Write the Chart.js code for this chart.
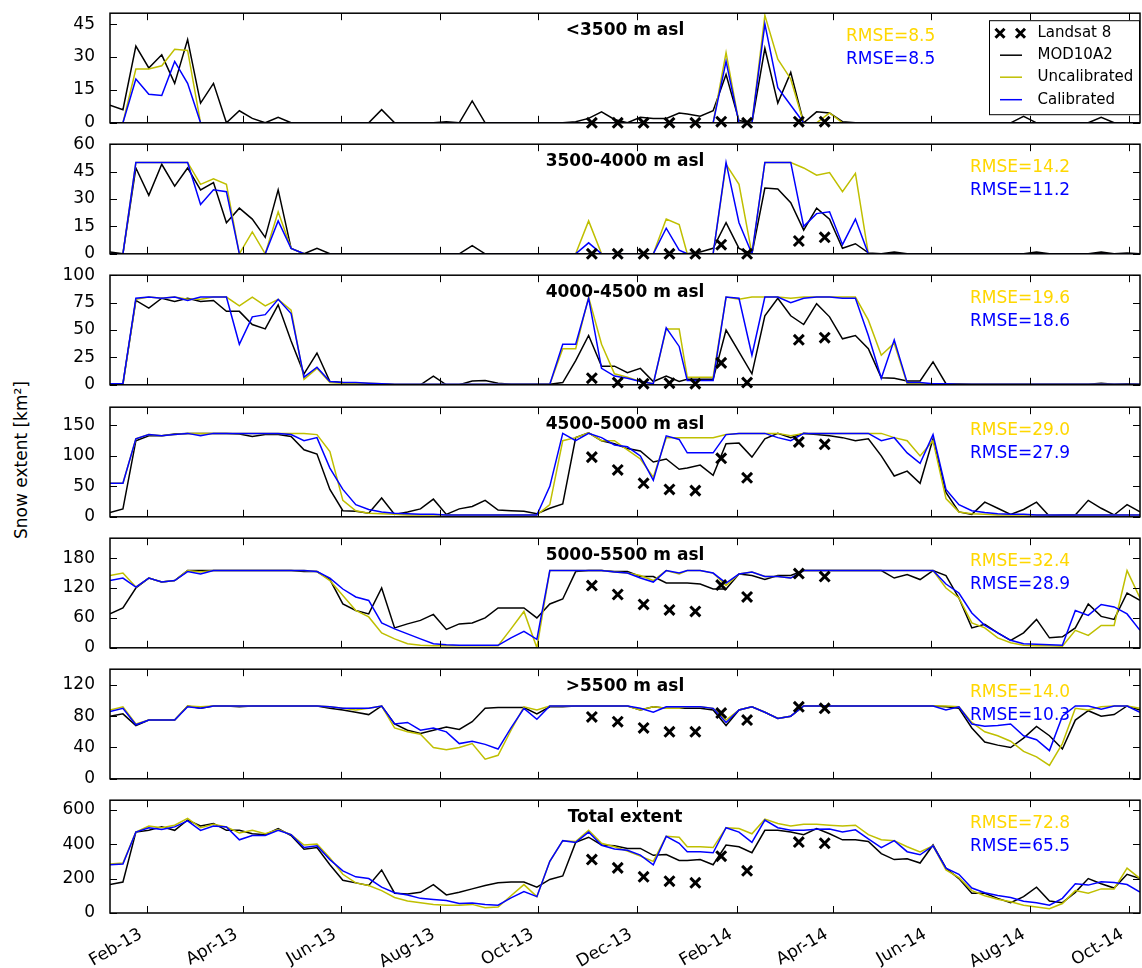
<!DOCTYPE html>
<html>
<head>
<meta charset="utf-8">
<title>Snow extent per elevation band</title>
<script src="https://cdn.jsdelivr.net/npm/chart.js@4.4.1/dist/chart.umd.min.js"></script>
<style>
  html, body { margin: 0; padding: 0; background: #fff; overflow: hidden; }
  #wrap { position: relative; width: 1142px; height: 968px; overflow: hidden; }
  #ylabel {
    position: absolute; left: 21px; top: 460px;
    transform: translate(-50%, -50%) rotate(-90deg);
    font: 17px "DejaVu Sans", sans-serif; white-space: nowrap; color: #000;
  }
</style>
</head>
<body>
<div id="wrap">
  <div id="ylabel">Snow extent [km²]</div>
</div>
<script>
// day number counted from 2013-01-01 (8-day MOD10A2 composites)
const compositeDay = [
  8, 16, 24, 32, 40, 48, 56, 64, 72, 80, 88, 96, 104, 112, 120, 128, 136, 144, 152, 160,
  168, 176, 184, 192, 200, 208, 216, 224, 232, 240, 248, 256, 264, 272, 280, 288, 296, 304, 312, 320,
  328, 336, 344, 352, 360,
  365, 373, 381, 389, 397, 405, 413, 421, 429, 437, 445, 453, 461, 469, 477, 485, 493, 501, 509, 517,
  525, 533, 541, 549, 557, 565, 573, 581, 589, 597, 605, 613, 621, 629, 637, 645
];
const landsatDay = [306, 322, 338, 354, 370, 386, 402, 434, 450];

const tickDay = [31, 90, 151, 212, 273, 334, 396, 455, 516, 577, 638];
const tickLabels = ['Feb-13', 'Apr-13', 'Jun-13', 'Aug-13', 'Oct-13', 'Dec-13',
                    'Feb-14', 'Apr-14', 'Jun-14', 'Aug-14', 'Oct-14'];

const bandTitles = ['<3500 m asl', '3500-4000 m asl', '4000-4500 m asl', '4500-5000 m asl',
                    '5000-5500 m asl', '>5500 m asl', 'Total extent'];
const rmseUncal = ['8.5', '14.2', '19.6', '29.0', '32.4', '14.0', '72.8'];
const rmseCal = ['8.5', '11.2', '18.6', '27.9', '28.9', '10.3', '65.5'];
const axisMax = [50, 60, 100, 180, 220, 140, 655];
const axisStep = [15, 15, 25, 50, 60, 40, 200];
const legendLabels = ['Landsat 8', 'MOD10A2', 'Uncalibrated', 'Calibrated'];

// <3500 m asl
const mod1 = [8, 6, 35, 25, 31, 18, 38, 9, 18, 0, 5.5, 2, 0, 2.5, 0, 0, 0, 0, 0, 0,
  0, 6, 0, 0, 0, 0, 0.5, 0, 10, 0, 0, 0, 0, 0, 0, 0, 0.5, 2, 5, 1.5, 0, 2.5, 2, 2, 4.5,
  4, 3, 5.5, 22, 1, 0, 34, 9, 23, 0, 5, 4.5, 0.5, 0, 0, 0, 0, 0, 0, 0,
  0, 0, 0, 0, 0, 0, 3, 0, 0, 0, 0, 0, 2.5, 0, 0, 0];
const unc1 = [0, 0, 24.5, 24.5, 26, 33.5, 33, 0, 0, 0, 0, 0, 0, 0, 0, 0, 0, 0, 0, 0,
  0, 0, 0, 0, 0, 0, 0, 0, 0, 0, 0, 0, 0, 0, 0, 0, 0, 0, 0, 0, 0, 0, 0, 0, 0,
  0, 0, 0, 32, 0, 0, 49, 29, 20, 0, 0, 4.5, 0, 0, 0, 0, 0, 0, 0, 0,
  0, 0, 0, 0, 0, 0, 0, 0, 0, 0, 0, 0, 0, 0, 0, 0];
const cal1 = [0, 0, 20, 13, 12.5, 28, 18, 0, 0, 0, 0, 0, 0, 0, 0, 0, 0, 0, 0, 0,
  0, 0, 0, 0, 0, 0, 0, 0, 0, 0, 0, 0, 0, 0, 0, 0, 0, 0, 0, 0, 0, 0, 0, 0, 0,
  0, 0, 0, 28, 0, 0, 45, 16, 8, 0, 0, 0, 0, 0, 0, 0, 0, 0, 0, 0,
  0, 0, 0, 0, 0, 0, 0, 0, 0, 0, 0, 0, 0, 0, 0, 0];
const l8_1 = [0, 0, 0, 0, 0, 0.5, 0, 0.5, 0.5];

// 3500-4000 m asl
const mod2 = [1, 0, 47, 32, 49, 37, 47, 35, 39, 17, 25, 19, 9, 35, 3, 0, 3, 0, 0, 0,
  0, 0, 0, 0, 0, 0, 0, 0, 4.5, 0, 0, 0, 0, 0, 0, 0, 0, 0, 0, 0, 0, 0, 0, 0, 0,
  0, 1, 3, 17, 3, 0, 36, 35.5, 28, 13, 25, 19, 3, 5.5, 0.5, 0, 1, 0, 0, 0,
  0, 0, 0, 0, 0, 0, 0, 1, 0, 0, 0, 0, 1, 0, 0.5, 0];
const unc2 = [0, 0, 50, 50, 50, 50, 50, 38, 41, 38, 0, 12, 0, 23, 3, 0, 0, 0, 0, 0,
  0, 0, 0, 0, 0, 0, 0, 0, 0, 0, 0, 0, 0, 0, 0, 0, 0, 18, 0, 0, 0, 0, 0, 19, 16,
  0, 0, 0, 49, 38, 0, 50, 50, 50, 47, 43, 44.5, 34, 44, 0, 0, 0, 0, 0, 0,
  0, 0, 0, 0, 0, 0, 0, 0, 0, 0, 0, 0, 0, 0, 0, 0];
const cal2 = [0, 0, 50, 50, 50, 50, 50, 27, 35, 34, 0, 0, 0, 18, 3, 0, 0, 0, 0, 0,
  0, 0, 0, 0, 0, 0, 0, 0, 0, 0, 0, 0, 0, 0, 0, 0, 0, 6, 0, 0, 0, 0, 0, 14, 2,
  0, 0, 0, 50, 17, 0, 50, 50, 50, 15, 22, 23, 5, 19, 0, 0, 0, 0, 0, 0,
  0, 0, 0, 0, 0, 0, 0, 0, 0, 0, 0, 0, 0, 0, 0, 0];
const l8_2 = [0, 0, 0, 0, 0, 5, 0, 7, 9];

// 4000-4500 m asl
const mod3 = [1, 1, 77, 70, 79, 76, 79, 76, 77, 67, 67, 55, 51, 73, 40, 10, 29, 3, 2, 1.5,
  1, 1, 0, 0, 0, 8, 0, 0, 3.5, 4, 1.5, 0.5, 0.5, 0.5, 0.5, 2, 22, 45, 17, 17, 11, 15, 3, 8, 3,
  5, 5, 5, 50, 30, 10, 63, 79, 63, 55, 74, 62, 42, 45, 33, 6.5, 6, 3.5, 3.5, 21,
  1, 1, 0.5, 0.5, 0.5, 0.5, 0.5, 0.5, 0.5, 0.5, 0.5, 0.5, 1.5, 0.5, 1, 0.5];
const unc3 = [0, 0, 78, 80, 79, 80, 78, 78, 80, 80, 72, 80, 72, 78, 68, 5, 15, 2, 1.5, 1.5,
  1.5, 1, 0.5, 0.5, 0.5, 0.5, 0.5, 0.5, 0.5, 0.5, 0.5, 0.5, 0.5, 0.5, 0.5, 33, 33, 80, 37, 10, 7, 3, 1, 51, 51,
  7, 7, 7, 80, 78, 80, 80, 80, 79, 80, 80, 80, 80, 80, 59, 27, 38, 1, 1, 1,
  0.5, 0.5, 0.5, 0.5, 0.5, 0.5, 0.5, 0.5, 0.5, 0.5, 0.5, 0.5, 0.5, 0.5, 0.5, 0.5];
const cal3 = [1, 1, 79, 80, 79, 80, 77, 80, 80, 80, 37, 62, 64, 78, 65, 7, 16, 3, 2, 2,
  1.5, 1, 0.5, 0.5, 0.5, 0.5, 0.5, 0.5, 0.5, 0.5, 0.5, 0.5, 0.5, 0.5, 0.5, 37, 37, 79, 15, 8, 6, 3, 1, 52, 35,
  4, 4, 4, 80, 79, 27, 80, 80, 75, 79, 80, 80, 79, 79, 45, 6, 41, 2, 2, 1,
  1, 0.5, 0.5, 0.5, 0.5, 0.5, 0.5, 0.5, 0.5, 0.5, 0.5, 0.5, 0.5, 0.5, 0.5, 0.5];
const l8_3 = [6, 2, 1, 1.5, 1, 20, 2, 41, 43];

// 4500-5000 m asl
const mod4 = [7, 13, 125, 133, 133, 136, 137, 137, 137, 137, 136, 132, 135, 135, 132, 110, 103, 45, 10, 9,
  6, 31, 4, 8, 13, 29, 4, 13, 17, 27, 11, 10, 9, 5, 14, 21, 130, 138, 125, 120, 112, 108, 90, 95, 78,
  80, 85, 68, 120, 121, 98, 128, 137, 130, 137, 135, 133, 130, 125, 128, 100, 67, 75, 55, 128,
  40, 8, 4, 24, 14, 4, 12, 24, 1, 3, 3, 27, 14, 3, 20, 8];
const unc4 = [55, 55, 128, 135, 133, 135, 137, 137, 137, 137, 137, 137, 137, 137, 137, 137, 135, 107, 27, 10,
  6, 5, 4, 3, 3, 3, 3, 3, 3, 3, 3, 3, 3, 3, 20, 125, 130, 138, 125, 125, 110, 95, 65, 130, 130,
  130, 130, 130, 135, 137, 137, 137, 137, 133, 137, 137, 137, 137, 137, 137, 137, 130, 125, 100, 125,
  30, 8, 5, 4, 3, 3, 3, 3, 3, 3, 3, 3, 3, 3, 3, 3];
const cal4 = [55, 55, 128, 135, 133, 135, 137, 133, 137, 137, 137, 137, 137, 137, 135, 125, 130, 80, 45, 20,
  12, 8, 6, 5, 4, 4, 3, 3, 3, 3, 3, 3, 3, 3, 50, 137, 125, 137, 130, 118, 115, 100, 60, 133, 127,
  105, 105, 105, 135, 137, 137, 137, 130, 125, 137, 137, 137, 137, 137, 137, 125, 130, 105, 88, 135,
  45, 20, 10, 7, 5, 4, 4, 3, 3, 3, 3, 3, 3, 3, 3, 3];
const l8_4 = [98, 77, 55, 45, 43, 96, 64, 123, 119];

// 5000-5500 m asl
const mod5 = [68, 80, 120, 140, 132, 135, 155, 155, 155, 155, 155, 155, 155, 155, 155, 153, 153, 137, 88, 75,
  68, 120, 40, 48, 55, 67, 37, 48, 50, 60, 80, 80, 80, 60, 88, 98, 153, 155, 155, 153, 153, 143, 143, 130, 130,
  130, 128, 118, 118, 148, 145, 137, 145, 145, 155, 155, 155, 155, 155, 155, 155, 140, 147, 137, 155,
  145, 100, 40, 47, 30, 15, 30, 57, 20, 22, 40, 88, 63, 57, 110, 95];
const unc5 = [145, 150, 122, 140, 132, 135, 155, 152, 155, 155, 155, 155, 155, 155, 155, 155, 153, 135, 105, 75,
  62, 30, 18, 8, 5, 4, 4, 4, 4, 4, 4, 38, 73, 0, 155, 155, 155, 155, 155, 152, 150, 145, 135, 155, 148,
  155, 155, 150, 125, 148, 152, 143, 143, 140, 155, 155, 155, 155, 155, 155, 155, 155, 155, 155, 155,
  120, 100, 50, 40, 20, 10, 5, 4, 4, 3, 35, 25, 45, 45, 155, 100];
const cal5 = [135, 140, 122, 140, 132, 135, 153, 148, 155, 155, 155, 155, 155, 155, 155, 155, 153, 140, 118, 102,
  95, 50, 38, 28, 18, 8, 6, 5, 5, 5, 5, 20, 33, 17, 155, 155, 155, 155, 155, 152, 150, 140, 132, 155, 150,
  155, 155, 150, 130, 148, 152, 143, 143, 140, 155, 155, 155, 155, 155, 155, 155, 155, 155, 155, 155,
  128, 110, 70, 45, 30, 15, 8, 7, 6, 5, 75, 65, 87, 82, 68, 35];
const l8_5 = [125, 107, 87, 76, 73, 126, 102, 149, 143];

// >5500 m asl
const mod6 = [80, 83, 68, 75, 75, 75, 93, 90, 93, 93, 92, 93, 93, 93, 93, 93, 93, 90, 88, 85,
  82, 93, 70, 62, 58, 62, 66, 63, 73, 90, 91, 91, 91, 83, 92, 92, 93, 93, 93, 93, 93, 88, 92, 90, 90,
  90, 90, 88, 68, 88, 92, 85, 77, 80, 93, 93, 93, 93, 93, 93, 93, 93, 93, 93, 93,
  92, 90, 65, 47, 43, 40, 52, 67, 55, 38, 75, 87, 80, 82, 93, 88];
const unc6 = [88, 92, 70, 75, 75, 75, 93, 92, 93, 93, 93, 93, 93, 93, 93, 93, 93, 92, 90, 88,
  90, 93, 65, 60, 57, 40, 37, 40, 45, 25, 30, 62, 92, 88, 93, 93, 93, 93, 93, 93, 93, 88, 92, 90, 90,
  92, 92, 90, 75, 88, 92, 85, 77, 80, 93, 93, 93, 93, 93, 93, 93, 93, 93, 93, 93,
  93, 92, 72, 60, 55, 48, 35, 28, 17, 45, 90, 88, 92, 93, 93, 90];
const cal6 = [86, 90, 69, 75, 75, 75, 92, 90, 93, 93, 93, 93, 93, 93, 93, 93, 93, 92, 90, 90,
  90, 93, 70, 72, 62, 65, 60, 45, 48, 44, 38, 65, 90, 76, 93, 93, 93, 93, 93, 93, 93, 90, 85, 92, 92,
  92, 92, 90, 72, 88, 92, 85, 77, 80, 93, 93, 93, 93, 93, 93, 93, 93, 93, 93, 93,
  88, 92, 70, 67, 68, 70, 55, 50, 36, 80, 93, 93, 89, 93, 93, 85];
const l8_6 = [79, 73, 65, 60, 60, 84, 75, 92, 90];

// Total extent
const mod7 = [165, 180, 470, 480, 500, 480, 540, 505, 520, 480, 480, 460, 455, 490, 450, 370, 380, 280, 190, 175,
  160, 250, 115, 110, 120, 165, 105, 120, 140, 160, 175, 180, 180, 150, 195, 215, 410, 440, 395, 390, 375, 375, 335, 340, 305,
  305, 310, 280, 395, 385, 350, 480, 480, 470, 455, 490, 460, 425, 425, 415, 345, 310, 315, 290, 395,
  260, 200, 115, 115, 85, 60, 95, 150, 70, 60, 120, 200, 170, 145, 225, 200];
const unc7 = [285, 290, 470, 505, 495, 510, 550, 495, 515, 500, 465, 480, 460, 485, 455, 395, 400, 320, 225, 175,
  160, 130, 90, 70, 60, 50, 45, 45, 50, 30, 35, 100, 165, 95, 300, 420, 415, 480, 405, 385, 360, 330, 300, 445, 440,
  385, 385, 380, 495, 490, 460, 545, 520, 505, 515, 515, 510, 505, 510, 455, 425, 420, 385, 355, 390,
  250, 205, 130, 100, 80, 65, 45, 35, 25, 55, 130, 115, 140, 140, 260, 200];
const cal7 = [280, 285, 470, 495, 485, 500, 535, 480, 505, 500, 425, 450, 450, 480, 455, 380, 390, 310, 245, 210,
  200, 150, 118, 105, 85, 78, 72, 55, 58, 50, 45, 88, 125, 95, 300, 420, 410, 470, 393, 372, 364, 336, 280, 445, 405,
  356, 356, 350, 495, 470, 410, 540, 495, 480, 480, 487, 488, 470, 483, 430, 380, 420, 356, 338, 390,
  260, 225, 145, 118, 102, 90, 68, 60, 45, 85, 170, 162, 182, 177, 165, 122];
const l8_7 = [310, 262, 210, 185, 175, 330, 245, 412, 405];

const modSeries = [mod1, mod2, mod3, mod4, mod5, mod6, mod7];
const uncSeries = [unc1, unc2, unc3, unc4, unc5, unc6, unc7];
const calSeries = [cal1, cal2, cal3, cal4, cal5, cal6, cal7];
const landsatSeries = [l8_1, l8_2, l8_3, l8_4, l8_5, l8_6, l8_7];

const COL_MOD = '#000000', COL_UNC = '#bfbf00', COL_CAL = '#0000ff', COL_RMSE_UNC = '#ffd700';
const PANEL_TOP = [10, 141, 272, 404, 535, 666, 797];
const PLOT_H = 116, PAD = 14, XAXIS_H = 58;
const FONT = '"DejaVu Sans", sans-serif';

Chart.defaults.font.family = FONT;
Chart.defaults.font.size = 17;
Chart.defaults.color = '#000';

function toPoints(xs, ys) {
  return xs.map((x, i) => ({ x: x, y: ys[i] }));
}

function drawCross(ctx, x, y, r) {
  ctx.beginPath();
  ctx.moveTo(x - r, y - r); ctx.lineTo(x + r, y + r);
  ctx.moveTo(x - r, y + r); ctx.lineTo(x + r, y - r);
  ctx.stroke();
}

// frame, inward ticks, date labels, band title, RMSE text and legend
const panelDecor = {
  id: 'panelDecor',
  afterDatasetsDraw(chart, args, o) {
    const { ctx, chartArea: a } = chart;
    const x = chart.scales.x, y = chart.scales.y;
    ctx.save();
    ctx.strokeStyle = '#000';
    ctx.lineWidth = 1;
    ctx.beginPath();
    tickDay.forEach(d => {
      const px = Math.round(x.getPixelForValue(d)) + 0.5;
      ctx.moveTo(px, a.bottom); ctx.lineTo(px, a.bottom - 7);
      ctx.moveTo(px, a.top); ctx.lineTo(px, a.top + 7);
    });
    y.ticks.forEach(t => {
      const py = Math.round(y.getPixelForValue(t.value)) + 0.5;
      ctx.moveTo(a.left, py); ctx.lineTo(a.left + 7, py);
      ctx.moveTo(a.right, py); ctx.lineTo(a.right - 7, py);
    });
    ctx.stroke();
    ctx.lineWidth = 1.5;
    ctx.strokeRect(a.left, a.top, a.right - a.left, a.bottom - a.top);

    ctx.fillStyle = '#000';
    if (o.dateLabels) {
      ctx.font = '17px ' + FONT;
      ctx.textAlign = 'right';
      ctx.textBaseline = 'alphabetic';
      tickDay.forEach((d, i) => {
        ctx.save();
        ctx.translate(x.getPixelForValue(d) - 4, a.bottom + 24);
        ctx.rotate(-Math.PI / 6);
        ctx.fillText(tickLabels[i], 0, 0);
        ctx.restore();
      });
    }

    ctx.textBaseline = 'middle';
    ctx.font = 'bold 17px ' + FONT;
    ctx.textAlign = 'center';
    ctx.fillText(o.title, (a.left + a.right) / 2, a.top + 17);

    ctx.font = '17px ' + FONT;
    ctx.textAlign = 'left';
    ctx.fillStyle = COL_RMSE_UNC;
    ctx.fillText('RMSE=' + o.rmseU, o.rmseX, a.top + 23);
    ctx.fillStyle = COL_CAL;
    ctx.fillText('RMSE=' + o.rmseC, o.rmseX, a.top + 46);

    if (o.legend) {
      const bx = 989.5, by = a.top + 7.5, bw = 150, bh = 94;
      ctx.fillStyle = '#fff';
      ctx.fillRect(bx, by, bw, bh);
      ctx.lineWidth = 1;
      ctx.strokeStyle = '#000';
      ctx.strokeRect(bx, by, bw, bh);
      const rows = [a.top + 20, a.top + 42, a.top + 64, a.top + 86.5];
      ctx.lineWidth = 3;
      drawCross(ctx, 1000, rows[0], 4.5);
      drawCross(ctx, 1020.5, rows[0], 4.5);
      [COL_MOD, COL_UNC, COL_CAL].forEach((c, i) => {
        ctx.strokeStyle = c;
        ctx.lineWidth = 1.5;
        ctx.beginPath();
        ctx.moveTo(1000, rows[i + 1]); ctx.lineTo(1022, rows[i + 1]);
        ctx.stroke();
      });
      ctx.fillStyle = '#000';
      ctx.font = '15px ' + FONT;
      legendLabels.forEach((t, i) => ctx.fillText(t, 1037.5, rows[i]));
    }
    ctx.restore();
  }
};

const wrap = document.getElementById('wrap');

bandTitles.forEach((title, k) => {
  const last = k === bandTitles.length - 1;
  const h = PAD + PLOT_H + (last ? XAXIS_H : PAD);
  const canvas = document.createElement('canvas');
  canvas.width = 1150;
  canvas.height = h;
  canvas.style.cssText = 'position:absolute;left:0;top:' + (PANEL_TOP[k] - PAD) + 'px;width:1150px;height:' + h + 'px;';
  wrap.appendChild(canvas);

  new Chart(canvas, {
    type: 'line',
    data: {
      datasets: [
        {
          label: 'Landsat 8',
          data: toPoints(landsatDay, landsatSeries[k]),
          showLine: false,
          pointStyle: 'crossRot',
          pointRadius: 7,
          pointBorderWidth: 3,
          borderColor: '#000',
          backgroundColor: '#000',
          clip: false
        },
        {
          label: 'Calibrated',
          data: toPoints(compositeDay, calSeries[k]),
          borderColor: COL_CAL,
          borderWidth: 1.5,
          pointRadius: 0
        },
        {
          label: 'Uncalibrated',
          data: toPoints(compositeDay, uncSeries[k]),
          borderColor: COL_UNC,
          borderWidth: 1.5,
          pointRadius: 0
        },
        {
          label: 'MOD10A2',
          data: toPoints(compositeDay, modSeries[k]),
          borderColor: COL_MOD,
          borderWidth: 1.5,
          pointRadius: 0
        }
      ]
    },
    options: {
      responsive: false,
      animation: false,
      devicePixelRatio: 1,
      layout: { padding: { left: 0, right: 4, top: PAD, bottom: last ? XAXIS_H : PAD } },
      plugins: {
        legend: { display: false },
        tooltip: { enabled: false },
        panelDecor: {
          title: title,
          rmseU: rmseUncal[k],
          rmseC: rmseCal[k],
          rmseX: k === 0 ? 846 : 970,
          legend: k === 0,
          dateLabels: last
        }
      },
      scales: {
        x: { type: 'linear', min: 8, max: 645, display: false },
        y: {
          min: 0,
          max: axisMax[k],
          afterFit: s => { s.width = 110; },
          grid: { display: false },
          border: { display: false },
          ticks: { stepSize: axisStep[k], includeBounds: false, padding: 7, font: { size: 17 } }
        }
      }
    },
    plugins: [panelDecor]
  });
});
</script>
</body>
</html>
